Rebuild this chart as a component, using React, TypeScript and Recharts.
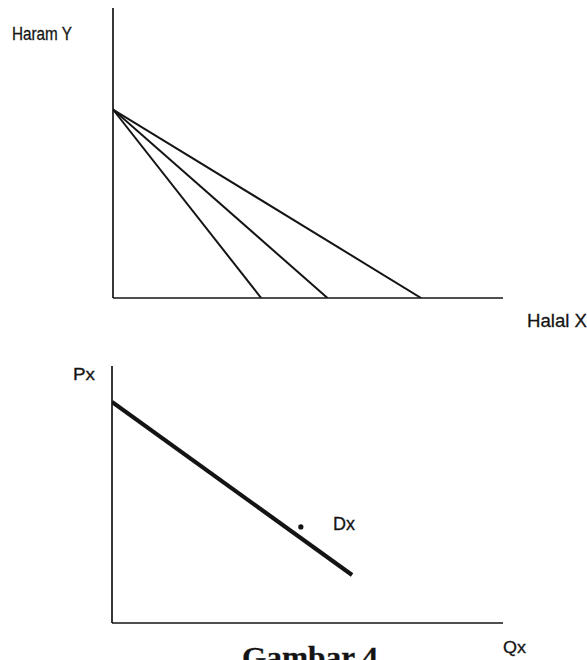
import React from 'react';
import { ComposedChart, Line, Scatter, XAxis, YAxis, ReferenceLine, Customized } from 'recharts';

// ---- Data (top chart: budget lines between Haram Y and Halal X) ----
const budgetLineNames = ['BL1', 'BL2', 'BL3'];
const haramIntercepts = [65, 65, 65]; // Y intercept (Haram Y)
const halalIntercepts = [38, 55, 79]; // X intercept (Halal X)

// ---- Data (bottom chart: demand curve Dx) ----
const demandQx = [0, 61.4];
const demandPx = [86, 18.7];
const labelPointQx = [48.3];
const labelPointPx = [37.4];

// ---- Text ----
const topYLabel = 'Haram Y';
const topXLabel = 'Halal X';
const bottomYLabel = 'Px';
const bottomXLabel = 'Qx';
const curveLabel = 'Dx';
const captionText = 'Gambar 4';

const INK = '#141414';
const SANS = '"Liberation Sans Narrow", "Liberation Sans", Arial, sans-serif';
const SERIF = '"Liberation Serif", "Times New Roman", serif';

const budgetSeries = budgetLineNames.map((name, i) => ({
  name,
  data: [
    { x: 0, y: haramIntercepts[i] },
    { x: halalIntercepts[i], y: 0 },
  ],
}));

const demandData = demandQx.map((q, i) => ({ x: q, y: demandPx[i] }));
const pointData = labelPointQx.map((q, i) => ({ x: q, y: labelPointPx[i] }));

const TopLabels = () => (
  <g fill={INK} fontFamily={SANS} stroke={INK} strokeWidth={0.3}>
    <text x={12} y={40} fontSize={19} textLength={60} lengthAdjust="spacingAndGlyphs">{topYLabel}</text>
    <text x={527} y={327} fontSize={19} textLength={60} lengthAdjust="spacingAndGlyphs">{topXLabel}</text>
  </g>
);

const BottomLabels = () => (
  <g fill={INK} stroke={INK} strokeWidth={0.3}>
    <text x={73} y={50} fontSize={17} fontFamily={SANS} textLength={22} lengthAdjust="spacingAndGlyphs">{bottomYLabel}</text>
    <text x={333} y={200} fontSize={18} fontFamily={SANS} textLength={22} lengthAdjust="spacingAndGlyphs">{curveLabel}</text>
    <text x={503} y={323} fontSize={17} fontFamily={SANS} textLength={23} lengthAdjust="spacingAndGlyphs">{bottomXLabel}</text>
    <text x={242} y={337} fontSize={30} fontFamily={SERIF} fontWeight="bold" textLength={136} lengthAdjust="spacingAndGlyphs">{captionText}</text>
  </g>
);

const Dot = (props: any) => <circle cx={props.cx} cy={props.cy} r={2.6} fill={INK} />;

export default function App() {
  return (
    <div style={{ position: 'absolute', left: 0, top: 0, width: 587, height: 660, background: '#fff', overflow: 'hidden' }}>
      <ComposedChart width={587} height={330} margin={{ top: 8, right: 84, bottom: 32, left: 113 }}>
        <XAxis type="number" dataKey="x" domain={[0, 100]} allowDataOverflow hide />
        <YAxis type="number" dataKey="y" domain={[0, 100]} allowDataOverflow hide />
        <ReferenceLine x={0} stroke={INK} strokeWidth={1.7} />
        <ReferenceLine y={0} stroke={INK} strokeWidth={1.7} />
        {budgetSeries.map((s) => (
          <Line key={s.name} data={s.data} dataKey="y" type="linear" stroke={INK} strokeWidth={2}
            dot={false} activeDot={false} isAnimationActive={false} />
        ))}
        <Customized component={TopLabels} />
      </ComposedChart>
      <ComposedChart width={587} height={330} margin={{ top: 36, right: 84, bottom: 37, left: 112 }}>
        <XAxis type="number" dataKey="x" domain={[0, 100]} allowDataOverflow hide />
        <YAxis type="number" dataKey="y" domain={[0, 100]} allowDataOverflow hide />
        <ReferenceLine x={0} stroke={INK} strokeWidth={1.7} />
        <ReferenceLine y={0} stroke={INK} strokeWidth={1.7} />
        <Line data={demandData} dataKey="y" type="linear" stroke={INK} strokeWidth={4.2}
          dot={false} activeDot={false} isAnimationActive={false} />
        <Scatter data={pointData} dataKey="y" fill={INK} shape={Dot} isAnimationActive={false} />
        <Customized component={BottomLabels} />
      </ComposedChart>
    </div>
  );
}
